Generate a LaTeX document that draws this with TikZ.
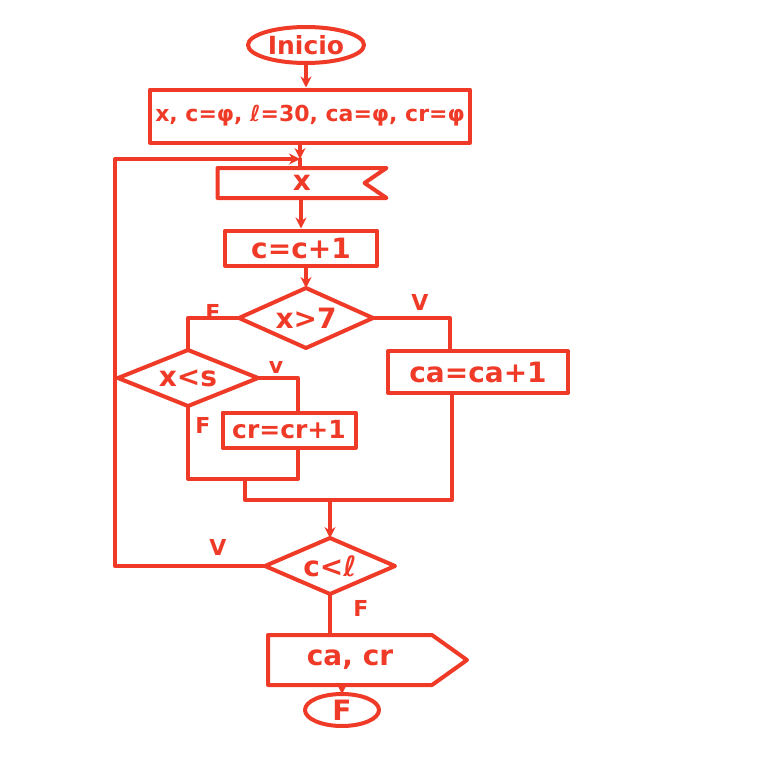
\documentclass[tikz,border=0pt]{standalone}
\usepackage{fontspec}
\setmainfont{DejaVu Sans}
\usetikzlibrary{arrows.meta}
\definecolor{ink}{RGB}{240,58,40}
\begin{document}
\begin{tikzpicture}[x=1pt,y=-1pt,line width=4pt,draw=ink,text=ink,
  line join=round,line cap=round,
  font=\bfseries\fontsize{28}{30}\selectfont,
  procbox/.style={rectangle,draw,inner sep=0pt},
  ghost/.style={rectangle,draw=none,inner sep=0pt},
  lbl/.style={font=\bfseries\fontsize{22}{24}\selectfont},
  arr/.style={-{Stealth[length=11pt,width=11pt]}}]
\useasboundingbox[fill=white] (0,0) rectangle (768,768);

% nodes (text holders)
\node[ghost,font=\bfseries\fontsize{25}{28}\selectfont] (ini) at (306,45) {Inicio};
\node[procbox,minimum width=320,minimum height=53,font=\bfseries\fontsize{22}{24}\selectfont] (in) at (310,116) {x, c=φ, ℓ=30, ca=φ, cr=φ};
\coordinate (m0) at (300,159);
\node[ghost,minimum width=165,minimum height=26] (rd) at (302,183) {x};
\node[procbox,minimum width=152,minimum height=35] (cc) at (301,248) {c=c+1};
\node[ghost] (d1) at (306,318) {x>7};
\node[ghost] (d2) at (188,378) {x<s};
\node[procbox,minimum width=180,minimum height=42] (ca) at (478,372) {ca=ca+1};
\node[procbox,minimum width=133,minimum height=35,font=\bfseries\fontsize{25}{28}\selectfont] (cr) at (289,430) {cr=cr+1};
\node[ghost] (d3) at (330,566) {c<ℓ};
\node[ghost,minimum width=160,minimum height=46] (out) at (350,660) {ca, cr};
\node[ghost] (fin) at (342,710) {F};

% explicit outline points
\coordinate (inis) at ([yshift=-18pt]ini.center);
\coordinate (finn) at ([yshift=16pt]fin.center);
\foreach \d/\w/\h in {d1/67/30,d2/70/28,d3/65/28}{
  \coordinate (\d n) at ([yshift=\h pt]\d.center);
  \coordinate (\d s) at ([yshift=-\h pt]\d.center);
  \coordinate (\d e) at ([xshift=\w pt]\d.center);
  \coordinate (\d w) at ([xshift=-\w pt]\d.center);
}
\coordinate (cx) at (298,0);
\coordinate (j1) at (298,479);
\coordinate (j2) at (245,479);
\coordinate (j3) at (245,500);
\coordinate (j4) at (452,500);
\coordinate (lp) at (115,576);

% outlines
\draw (ini.center) ellipse [x radius=58pt, y radius=18pt];
\draw (fin.center) ellipse [x radius=37pt, y radius=16pt];
\draw (rd.north west) -- (rd.north east) -- ([xshift=-22pt]rd.east) -- (rd.south east) -- (rd.south west) -- cycle;
\draw (out.north west) -- (out.north east) -- ([xshift=35pt]out.east) -- (out.south east) -- (out.south west) -- cycle;
\foreach \d in {d1,d2,d3}
  \draw (\d n) -- (\d e) -- (\d s) -- (\d w) -- cycle;

% connectors
\draw[arr] (inis) -- (inis |- in.north);
\draw[arr] (in.south -| m0) -- (m0);
\draw (m0) -- (m0 |- rd.north);
\draw[arr] (rd.south -| cc.north) -- (cc.north);
\draw[arr] (cc.south -| d1n) -- (d1n);
\draw (d1w) -| (d2n);
\draw (d1e) -| ([xshift=-28pt]ca.north);
\draw (d2e) -| (cr.north -| cx);
\draw (d2s) |- (j1) -- (cr.south -| cx);
\draw (j2) -- (j3) -- (j4) -- (j4 |- ca.south);
\draw[arr] (d3n |- j3) -- (d3n);
\draw[arr] (d3w) -- (d3w -| lp) -- (lp |- m0) -- (m0);
\draw (d3s) -- (d3s |- out.north);
\draw[arr] (finn |- out.south) -- (finn);

% labels
\node[lbl] (lf1) at (213,312) {F};
\node[lbl] (lv1) at (420,302) {V};
\node[lbl] (lv2) at (276,367) {v};
\node[lbl] (lf2) at (203,425) {F};
\node[lbl] (lv3) at (218,547) {V};
\node[lbl] (lf3) at (361,608) {F};
\end{tikzpicture}
\end{document}
